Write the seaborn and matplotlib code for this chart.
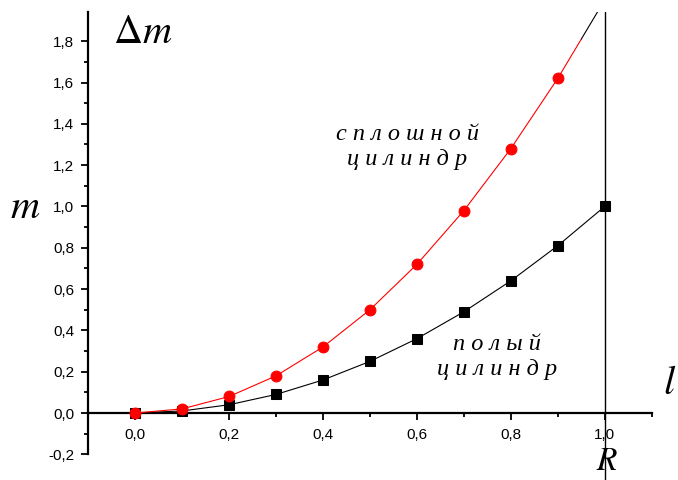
import matplotlib
matplotlib.use("Agg")
import matplotlib.pyplot as plt
import seaborn as sns
import numpy as np
import pandas as pd

# data
x_vals = [0.0, 0.1, 0.2, 0.3, 0.4, 0.5, 0.6, 0.7, 0.8, 0.9, 1.0]
solid_vals = [0.0, 0.02, 0.08, 0.18, 0.32, 0.50, 0.72, 0.98, 1.28, 1.62, 2.00]
hollow_vals = [0.0, 0.01, 0.04, 0.09, 0.16, 0.25, 0.36, 0.49, 0.64, 0.81, 1.00]
x_ticks = [0.0, 0.2, 0.4, 0.6, 0.8, 1.0]
x_ticklabels = ["0,0", "0,2", "0,4", "0,6", "0,8", "1,0"]
y_ticks = [-0.2, 0.0, 0.2, 0.4, 0.6, 0.8, 1.0, 1.2, 1.4, 1.6, 1.8]
y_ticklabels = ["-0,2", "0,0", "0,2", "0,4", "0,6", "0,8", "1,0", "1,2", "1,4", "1,6", "1,8"]
label_solid = "с п л о ш н о й\nц и л и н д р"
label_hollow = "п о л ы й\nц и л и н д р"

sns.set_theme(style="ticks")
plt.rcParams["font.family"] = ["Liberation Sans", "DejaVu Sans"]
plt.rcParams["mathtext.fontset"] = "stix"

fig = plt.figure(figsize=(6.78, 4.8), dpi=100)
ax = fig.add_axes([0.1302, 0.0535, 0.9612 - 0.1302, 0.9744 - 0.0535])

df_h = pd.DataFrame({"x": x_vals, "y": hollow_vals})
df_s = pd.DataFrame({"x": x_vals[:10], "y": solid_vals[:10]})

# hollow cylinder (black squares)
sns.lineplot(data=df_h, x="x", y="y", ax=ax, color="black", linewidth=0.8,
             marker="s", markersize=6.5, markeredgecolor="black",
             markerfacecolor="black", zorder=3)

# solid cylinder line: red up to the midpoint of the last interval, black afterwards
xm = (x_vals[9] + x_vals[10]) / 2
ym = (solid_vals[9] + solid_vals[10]) / 2
sns.lineplot(x=[x_vals[9], xm], y=[solid_vals[9], ym], ax=ax, color="red",
             linewidth=0.8, zorder=3)
sns.lineplot(x=[xm, x_vals[10]], y=[ym, solid_vals[10]], ax=ax, color="black",
             linewidth=0.8, zorder=3)
sns.lineplot(data=df_s, x="x", y="y", ax=ax, color="red", linewidth=0.8,
             marker="o", markersize=7.8, markeredgecolor="red",
             markerfacecolor="red", zorder=4)

ax.set_xlim(-0.1, 1.1)
ax.set_ylim(-0.2, 1.94)

# vertical line at R
ax.axvline(1.0, ymin=-0.058, ymax=1.0, color="black", linewidth=1.0,
           clip_on=False, zorder=5)

# spines
ax.spines["top"].set_visible(False)
ax.spines["right"].set_visible(False)
ax.spines["bottom"].set_position(("data", 0))
for s in ("left", "bottom"):
    ax.spines[s].set_linewidth(1.6)
    ax.spines[s].set_color("black")

ax.set_xticks(x_ticks)
ax.set_xticklabels(x_ticklabels)
ax.set_xticks(np.arange(-0.1, 1.11, 0.1), minor=True)
ax.set_yticks(y_ticks)
ax.set_yticklabels(y_ticklabels)
ax.set_yticks(np.arange(-0.2, 1.81, 0.1), minor=True)
ax.tick_params(axis="both", which="major", length=5, width=1.3, colors="black",
               labelsize=11, direction="out")
ax.tick_params(axis="both", which="minor", length=3, width=1.3, colors="black",
               direction="out")
ax.tick_params(axis="x", which="major", pad=6)
ax.tick_params(axis="y", which="major", pad=5)
ax.set_xlabel("")
ax.set_ylabel("")

# annotations
fig.text(113 / 678, 1 - 32 / 480, r"$\Delta m$", fontsize=29, ha="left",
         va="center", color="black")
fig.text(10 / 678, 1 - 207 / 480, r"$m$", fontsize=29, ha="left",
         va="center", color="black")
fig.text(663 / 678, 1 - 383 / 480, r"$l$", fontsize=29, ha="left",
         va="center", color="black")
fig.text(607 / 678, 1 - 461 / 480, r"$R$", fontsize=24, ha="center",
         va="center", color="black")

fig.text(407 / 678, 1 - 147 / 480, label_solid, fontsize=17.5, ha="center",
         va="center", family="Liberation Serif", style="italic",
         linespacing=1.2, color="black")
fig.text(497 / 678, 1 - 357 / 480, label_hollow, fontsize=17.5, ha="center",
         va="center", family="Liberation Serif", style="italic",
         linespacing=1.2, color="black")

fig.savefig("out.png", dpi=100, facecolor="white")
